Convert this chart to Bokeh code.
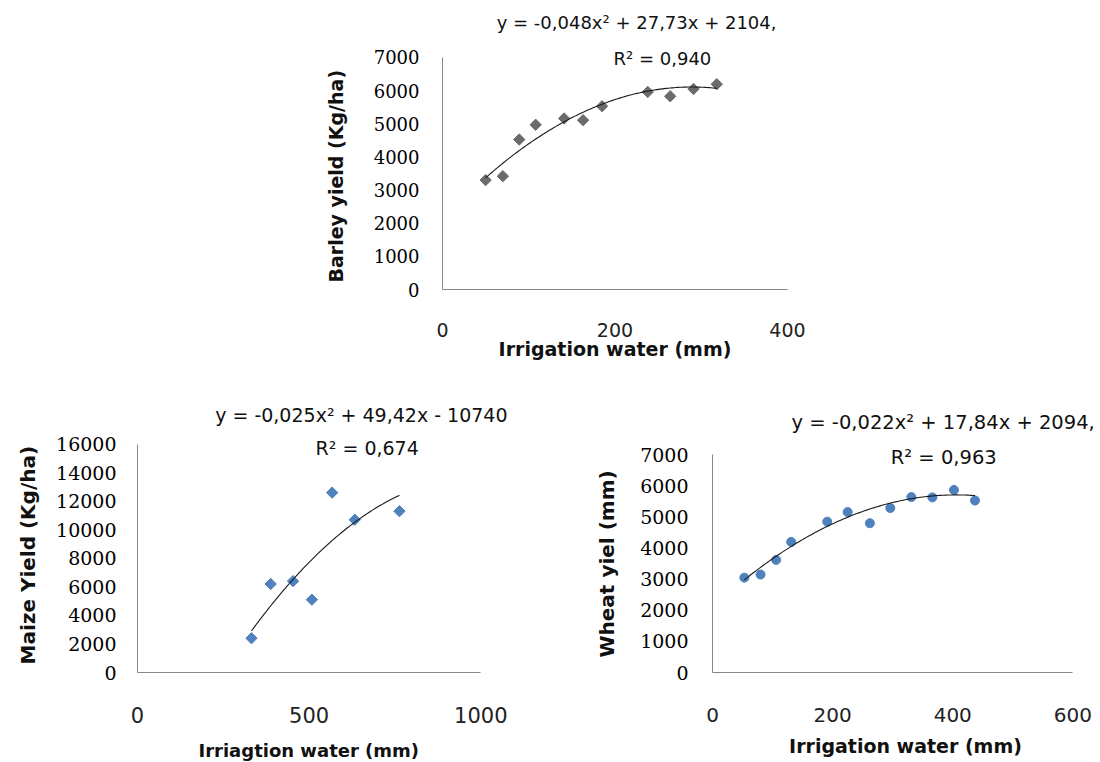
import numpy as np
from bokeh.plotting import figure
from bokeh.models import Label, FixedTicker, Range1d, Title
from bokeh.layouts import column, row
from bokeh.embed import file_html
from bokeh.resources import INLINE

# Barley: irrigation water (mm) vs yield (kg/ha)
barley_water = [50, 70, 89, 108, 141, 163, 185, 238, 264, 291, 318]
barley_yield = [3300, 3420, 4525, 4970, 5160, 5110, 5530, 5960, 5830, 6050, 6195]
barley_coef = [-0.048, 27.73, 2104]
barley_eq = ["y = -0,048x² + 27,73x + 2104,", "R² = 0,940"]

# Maize
maize_water = [332, 388, 453, 508, 567, 633, 763]
maize_yield = [2400, 6200, 6400, 5100, 12600, 10700, 11300]
maize_coef = [-0.025, 49.42, -10740]
maize_eq = ["y = -0,025x² + 49,42x - 10740", "R² = 0,674"]

# Wheat
wheat_water = [53, 80, 106, 131, 191, 225, 262, 296, 331, 366, 402, 437]
wheat_yield = [3050, 3150, 3620, 4200, 4850, 5160, 4800, 5290, 5640, 5630, 5870, 5530]
wheat_coef = [-0.022, 17.84, 2094]
wheat_eq = ["y = -0,022x² + 17,84x + 2094,", "R² = 0,963"]

barley_xticks = [0, 200, 400]
barley_yticks = list(range(0, 7001, 1000))
maize_xticks = [0, 500, 1000]
maize_yticks = list(range(0, 16001, 2000))
wheat_xticks = [0, 200, 400, 600]
wheat_yticks = list(range(0, 7001, 1000))

AXIS_GREY = "#868686"
BLUE = "#4f81bd"
GREY = "#6b6b6b"
INK = "#111111"


def make_panel(x_range, y_range, xticks, yticks, frame_w, frame_h, borders,
               xtick_px, ytick_px, x_stand, y_stand):
    left, right, top, bottom = borders
    p = figure(x_range=Range1d(*x_range), y_range=Range1d(*y_range),
               frame_width=frame_w, frame_height=frame_h,
               min_border_left=left, min_border_right=right,
               min_border_top=top, min_border_bottom=bottom,
               output_backend="svg", toolbar_location=None)
    p.outline_line_color = None
    p.grid.visible = False
    p.background_fill_color = "white"
    p.border_fill_color = "white"
    p.xaxis.ticker = FixedTicker(ticks=xticks)
    p.yaxis.ticker = FixedTicker(ticks=yticks)
    # axis lines only span the tick range; the frame above/right holds the fit equation
    p.xaxis.bounds = (xticks[0], xticks[-1])
    p.yaxis.bounds = (yticks[0], yticks[-1])
    for ax in (p.xaxis[0], p.yaxis[0]):
        ax.axis_line_color = AXIS_GREY
        ax.axis_line_width = 1
        ax.major_tick_line_color = None
        ax.minor_tick_line_color = None
        ax.major_tick_out = 0
        ax.major_tick_in = 0
        ax.minor_tick_out = 0
        ax.minor_tick_in = 0
        ax.axis_label_text_font = "DejaVu Sans"
        ax.axis_label_text_font_style = "bold"
        ax.axis_label_text_font_size = "19px"
        ax.axis_label_text_color = INK
    p.xaxis.major_label_text_font = "DejaVu Sans"
    p.xaxis.major_label_text_font_size = xtick_px
    p.xaxis.major_label_text_color = "#222222"
    p.xaxis.major_label_standoff = x_stand
    p.yaxis.major_label_text_font = "DejaVu Serif"
    p.yaxis.major_label_text_font_size = ytick_px
    p.yaxis.major_label_text_color = "#000000"
    p.yaxis.major_label_standoff = y_stand
    return p


def axis_title(p, text, side, offset, standoff, size):
    # titles start `offset` px from the frame's bottom (left side) or left edge (below)
    p.add_layout(Title(text=text, align="left", offset=offset, standoff=standoff,
                       text_font="DejaVu Sans", text_font_style="bold",
                       text_font_size=size, text_color=INK), side)


def add_trend(p, water, coef):
    xs = np.linspace(min(water), max(water), 120)
    ys = np.polyval(coef, xs)
    p.line(xs, ys, line_color="#1a1a1a", line_width=1.1)


def add_equation(p, lines, positions, size):
    for text, (x, y) in zip(lines, positions):
        p.add_layout(Label(x=x, y=y, text=text, text_align="center",
                           text_baseline="middle", text_font="DejaVu Sans",
                           text_font_size=size, text_color=INK))


# Barley (top)
p1 = make_panel((0, 400), (0, 8478), barley_xticks, barley_yticks, 345, 281,
                (442, 313, 8, 80), "19px", "18px", 33, 23)
p1.xaxis.axis_label = "Irrigation water (mm)"
p1.xaxis.axis_label_standoff = -2
axis_title(p1, "Barley yield (Kg/ha)", "left", 7, 48, "19px")
p1.scatter(barley_water, barley_yield, marker="square", size=8,
           angle=np.pi / 4, fill_color=GREY, line_color=GREY)
add_trend(p1, barley_water, barley_coef)
add_equation(p1, barley_eq, [(225, 8066), (255, 6980)], "18px")

# Maize (bottom left)
p2 = make_panel((0, 1104), (0, 19334), maize_xticks, maize_yticks, 379, 276,
                (137, 14, 27, 90), "21px", "19px", 34, 21)
axis_title(p2, "Irriagtion water (mm)", "below", 61, 25, "18px")
axis_title(p2, "Maize Yield (Kg/ha)", "left", 8, 27, "20px")
p2.scatter(maize_water, maize_yield, marker="square", size=8,
           angle=np.pi / 4, fill_color=BLUE, line_color=BLUE)
add_trend(p2, maize_water, maize_coef)
add_equation(p2, maize_eq, [(652, 18031), (669, 15692)], "19px")

# Wheat (bottom right)
p3 = make_panel((0, 642.6), (0, 8875), wheat_xticks, wheat_yticks, 386, 276,
                (182, 2, 27, 90), "20px", "19px", 35, 24)
p3.xaxis.axis_label = "Irrigation water (mm)"
p3.xaxis.axis_label_standoff = 10
axis_title(p3, "Wheat yiel (mm)", "left", 15, 38, "20px")
p3.scatter(wheat_water, wheat_yield, marker="circle", size=9,
           fill_color=BLUE, line_color=BLUE)
add_trend(p3, wheat_water, wheat_coef)
add_equation(p3, wheat_eq, [(384, 8039), (385, 6926)], "19.5px")

layout = column(p1, row(p2, p3))

open("out.html", "w").write(file_html(layout, INLINE))
